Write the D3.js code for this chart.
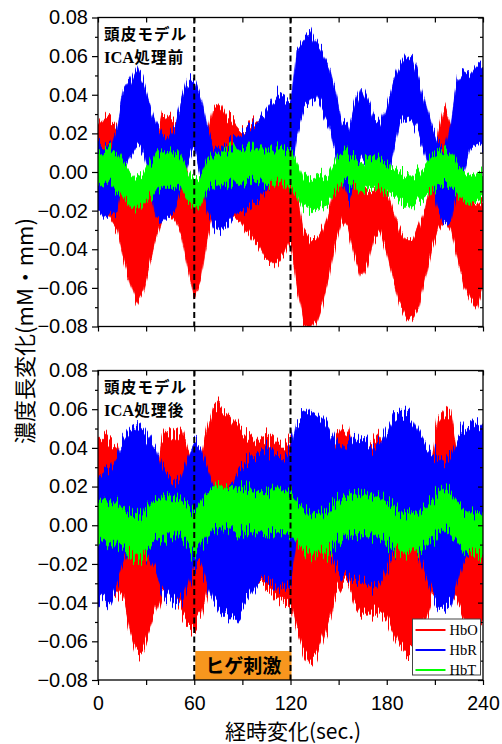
<!DOCTYPE html>
<html>
<head>
<meta charset="utf-8">
<script src="https://cdnjs.cloudflare.com/ajax/libs/d3/7.8.5/d3.min.js"></script>
<style>
  body { margin: 0; background: #fff; }
</style>
</head>
<body>
<svg id="chart" width="502" height="744"></svg>
<script>
// sampling times (sec) - one reading every 4 s, 0..240
const times = d3.range(0, 241, 4);

// 頭皮モデル ICA処理前 : upper / lower edge of each noisy trace (mM・mm)
const hboBeforeHi = [0.024,0.028,0.027,0.024,0.000,-0.010,-0.015,-0.010,0.000,0.015,0.030,0.028,0.026,0.020,0.000,-0.012,-0.005,0.020,0.035,0.036,0.030,0.026,0.022,0.022,0.026,0.026,0.020,0.010,0.000,0.000,0.005,
  -0.010,-0.030,-0.035,-0.035,-0.030,-0.020,-0.005,0.000,0.005,-0.005,-0.008,-0.010,-0.010,-0.005,-0.010,-0.020,-0.030,-0.035,-0.035,-0.028,-0.018,-0.005,0.020,0.034,0.025,-0.005,-0.012,-0.015,-0.018,-0.015];
const hboBeforeLo = [-0.018,-0.020,-0.025,-0.030,-0.045,-0.058,-0.068,-0.062,-0.048,-0.035,-0.025,-0.022,-0.025,-0.033,-0.050,-0.065,-0.056,-0.035,-0.022,-0.018,-0.020,-0.024,-0.025,-0.030,-0.035,-0.038,-0.044,-0.047,-0.047,-0.042,-0.035,
  -0.060,-0.078,-0.082,-0.078,-0.068,-0.055,-0.037,-0.025,-0.030,-0.044,-0.055,-0.048,-0.035,-0.031,-0.042,-0.055,-0.068,-0.075,-0.076,-0.070,-0.055,-0.040,-0.030,-0.025,-0.030,-0.044,-0.058,-0.065,-0.070,-0.060];
const hbrBeforeHi = [0.015,0.012,0.013,0.024,0.042,0.047,0.054,0.047,0.036,0.026,0.019,0.017,0.023,0.036,0.047,0.049,0.040,0.024,0.014,0.014,0.014,0.016,0.019,0.022,0.024,0.026,0.031,0.036,0.040,0.038,0.035,
  0.064,0.069,0.073,0.067,0.062,0.055,0.042,0.026,0.024,0.036,0.045,0.038,0.029,0.026,0.035,0.047,0.055,0.060,0.059,0.048,0.036,0.024,0.015,0.012,0.026,0.047,0.052,0.050,0.055,0.054];
const hbrBeforeLo = [-0.020,-0.024,-0.022,-0.020,0.000,0.008,0.014,0.010,-0.003,-0.024,-0.026,-0.023,-0.020,-0.010,0.005,0.014,-0.002,-0.020,-0.028,-0.030,-0.028,-0.024,-0.020,-0.020,-0.018,-0.015,-0.010,-0.005,0.000,0.000,-0.005,
  0.020,0.032,0.036,0.038,0.032,0.025,0.010,-0.005,-0.015,-0.005,0.010,0.005,-0.002,-0.008,-0.005,0.010,0.025,0.028,0.026,0.020,0.010,-0.005,-0.020,-0.027,-0.026,-0.010,0.000,0.012,0.014,0.012];
const hbtBeforeHi = [0.008,0.010,0.012,0.010,0.004,0.000,-0.003,-0.002,0.004,0.010,0.010,0.010,0.010,0.006,0.000,-0.004,-0.002,0.006,0.010,0.011,0.012,0.012,0.012,0.013,0.013,0.012,0.012,0.012,0.012,0.011,0.012,
  0.006,-0.002,-0.004,-0.003,-0.002,0.000,0.006,0.010,0.011,0.008,0.005,0.008,0.008,0.007,0.005,0.002,0.000,-0.002,-0.002,0.000,0.004,0.008,0.010,0.012,0.010,0.004,0.000,-0.002,-0.002,0.000];
const hbtBeforeLo = [-0.008,-0.006,-0.006,-0.010,-0.014,-0.017,-0.019,-0.018,-0.014,-0.010,-0.008,-0.008,-0.008,-0.010,-0.015,-0.019,-0.017,-0.010,-0.006,-0.006,-0.006,-0.006,-0.006,-0.005,-0.005,-0.005,-0.006,-0.006,-0.006,-0.007,-0.008,
  -0.012,-0.018,-0.020,-0.020,-0.018,-0.015,-0.010,-0.006,-0.005,-0.007,-0.010,-0.008,-0.008,-0.009,-0.010,-0.012,-0.015,-0.018,-0.018,-0.015,-0.012,-0.010,-0.008,-0.005,-0.008,-0.012,-0.015,-0.017,-0.016,-0.014];

// 頭皮モデル ICA処理後
const hboAfterHi = [0.046,0.046,0.043,0.040,0.030,0.015,0.005,0.005,0.010,0.025,0.045,0.048,0.048,0.050,0.040,0.030,0.035,0.050,0.062,0.063,0.060,0.055,0.050,0.046,0.045,0.045,0.046,0.045,0.042,0.042,0.045,
  0.000,-0.005,-0.005,-0.005,0.000,0.010,0.045,0.050,0.048,0.035,0.030,0.040,0.045,0.045,0.035,0.010,0.000,0.000,0.000,0.005,0.015,0.035,0.055,0.060,0.058,0.040,0.020,0.010,0.010,0.010];
const hboAfterLo = [-0.030,-0.032,-0.032,-0.035,-0.040,-0.055,-0.066,-0.064,-0.055,-0.045,-0.035,-0.035,-0.040,-0.045,-0.050,-0.052,-0.048,-0.035,-0.020,-0.020,-0.020,-0.022,-0.025,-0.028,-0.030,-0.030,-0.032,-0.035,-0.038,-0.040,-0.040,
  -0.055,-0.065,-0.070,-0.068,-0.060,-0.050,-0.035,-0.030,-0.030,-0.040,-0.045,-0.045,-0.045,-0.045,-0.048,-0.055,-0.062,-0.066,-0.066,-0.060,-0.050,-0.040,-0.035,-0.035,-0.035,-0.040,-0.048,-0.052,-0.052,-0.050];
const hbrAfterHi = [0.025,0.028,0.030,0.035,0.045,0.050,0.052,0.050,0.045,0.040,0.030,0.025,0.022,0.025,0.035,0.042,0.040,0.030,0.020,0.020,0.020,0.022,0.028,0.032,0.035,0.038,0.040,0.038,0.035,0.035,0.040,
  0.056,0.058,0.060,0.058,0.055,0.050,0.043,0.040,0.042,0.045,0.045,0.042,0.040,0.042,0.048,0.055,0.058,0.058,0.055,0.048,0.042,0.038,0.035,0.033,0.036,0.045,0.050,0.052,0.053,0.050];
const hbrAfterLo = [-0.038,-0.038,-0.038,-0.030,-0.020,-0.012,-0.010,-0.012,-0.018,-0.025,-0.033,-0.038,-0.042,-0.040,-0.030,-0.020,-0.020,-0.030,-0.040,-0.045,-0.048,-0.048,-0.045,-0.040,-0.035,-0.030,-0.028,-0.030,-0.033,-0.032,-0.030,
  -0.008,-0.006,-0.005,-0.006,-0.008,-0.012,-0.020,-0.026,-0.028,-0.028,-0.028,-0.030,-0.032,-0.030,-0.022,-0.014,-0.010,-0.008,-0.010,-0.015,-0.025,-0.035,-0.042,-0.045,-0.042,-0.030,-0.018,-0.014,-0.012,-0.015];
const hbtAfterHi = [0.013,0.013,0.012,0.011,0.008,0.006,0.005,0.006,0.010,0.013,0.014,0.015,0.014,0.013,0.010,0.007,0.012,0.016,0.020,0.021,0.020,0.020,0.019,0.019,0.018,0.017,0.017,0.018,0.019,0.018,0.017,
  0.012,0.008,0.006,0.005,0.006,0.008,0.012,0.014,0.015,0.016,0.016,0.016,0.015,0.014,0.012,0.010,0.007,0.006,0.006,0.007,0.009,0.013,0.017,0.019,0.017,0.012,0.008,0.006,0.006,0.006];
const hbtAfterLo = [-0.008,-0.008,-0.009,-0.010,-0.013,-0.016,-0.017,-0.016,-0.012,-0.008,-0.007,-0.006,-0.006,-0.007,-0.010,-0.014,-0.010,-0.006,-0.003,-0.002,-0.002,-0.003,-0.003,-0.004,-0.004,-0.004,-0.005,-0.004,-0.004,-0.004,-0.005,
  -0.010,-0.013,-0.015,-0.016,-0.015,-0.013,-0.009,-0.007,-0.006,-0.005,-0.005,-0.005,-0.006,-0.007,-0.009,-0.011,-0.013,-0.014,-0.014,-0.013,-0.011,-0.008,-0.004,-0.003,-0.005,-0.009,-0.013,-0.014,-0.015,-0.015];

const seriesNames = ["HbO", "HbR", "HbT"];
const seriesColors = ["#ff0000", "#0000ff", "#00ff00"];
const xTickValues = [0, 30, 60, 90, 120, 150, 180, 210, 240];
const yTickValues = [-0.08, -0.06, -0.04, -0.02, 0.00, 0.02, 0.04, 0.06, 0.08];
const yMinorValues = [-0.07, -0.05, -0.03, -0.01, 0.01, 0.03, 0.05, 0.07];
const stimulusTimes = [60, 120];
const stimulusLabel = "ヒゲ刺激";

const svg = d3.select("#chart");
const x = d3.scaleLinear().domain([0, 240]).range([98, 483]);

const panels = [
  {top: 17.5, bottom: 326.5, tag: "前", labels: false, jag: 26,
   bands: [[hboBeforeHi, hboBeforeLo], [hbrBeforeHi, hbrBeforeLo], [hbtBeforeHi, hbtBeforeLo]]},
  {top: 370.5, bottom: 680, tag: "後", labels: true, jag: 36,
   bands: [[hboAfterHi, hboAfterLo], [hbrAfterHi, hbrAfterLo], [hbtAfterHi, hbtAfterLo]]}
];

const defs = svg.append("defs");

// rough edge for the dense noisy traces (only shakes the drawn edge, not the data)
panels.forEach((p, k) => {
  const f = defs.append("filter").attr("id", "jag" + k)
    .attr("filterUnits", "userSpaceOnUse")
    .attr("x", 0).attr("y", 0).attr("width", 502).attr("height", 744)
    .attr("color-interpolation-filters", "sRGB");
  f.append("feTurbulence").attr("type", "fractalNoise")
    .attr("baseFrequency", "0.65 0.004").attr("numOctaves", 2).attr("seed", 4 + k)
    .attr("result", "n");
  f.append("feColorMatrix").attr("in", "n").attr("type", "matrix")
    .attr("values", "0 0 0 0 0.5  0 1 0 0 0  0 0 0 0 0  0 0 0 0 1").attr("result", "m");
  f.append("feDisplacementMap").attr("in", "SourceGraphic").attr("in2", "m")
    .attr("scale", p.jag).attr("xChannelSelector", "R").attr("yChannelSelector", "G");
});

panels.forEach((p, k) => {
  const y = d3.scaleLinear().domain([-0.08, 0.08]).range([p.bottom, p.top]);
  const g = svg.append("g");

  defs.append("clipPath").attr("id", "clip" + k)
    .append("rect")
    .attr("x", x(0)).attr("y", p.top)
    .attr("width", x(240) - x(0)).attr("height", p.bottom - p.top);

  // noisy traces drawn as filled bands, HbO first so HbT sits on top
  const bands = g.append("g").attr("clip-path", `url(#clip${k})`);
  p.bands.forEach(([hi, lo], i) => {
    const area = d3.area()
      .x((d, j) => x(times[j]))
      .y0((d, j) => y(lo[j]))
      .y1((d, j) => y(hi[j]));
    bands.append("path")
      .datum(hi)
      .attr("d", area)
      .attr("fill", seriesColors[i])
      .attr("stroke", seriesColors[i])
      .attr("stroke-width", 0.6)
      .attr("filter", `url(#jag${k})`);
  });

  // stimulus box (lower panel only)
  if (p.labels) {
    g.append("rect")
      .attr("x", x(stimulusTimes[0]) + 1).attr("y", y(-0.065))
      .attr("width", x(stimulusTimes[1]) - x(stimulusTimes[0]))
      .attr("height", p.bottom - y(-0.065))
      .attr("fill", "#f7961e");
    g.append("text")
      .attr("x", (x(stimulusTimes[0]) + x(stimulusTimes[1])) / 2 + 1)
      .attr("y", 673)
      .attr("text-anchor", "middle")
      .style("font-family", "'Noto Sans CJK JP'")
      .style("font-weight", "bold")
      .style("font-size", "19px")
      .text(stimulusLabel);
  }

  // dashed markers
  g.selectAll(".stim").data(stimulusTimes).enter().append("line")
    .attr("x1", d => x(d)).attr("x2", d => x(d))
    .attr("y1", p.top).attr("y2", p.bottom)
    .attr("stroke", "#000").attr("stroke-width", 2)
    .attr("stroke-dasharray", "6,3.5");

  // frame
  g.append("rect")
    .attr("x", x(0)).attr("y", p.top)
    .attr("width", x(240) - x(0)).attr("height", p.bottom - p.top)
    .attr("fill", "none").attr("stroke", "#000").attr("stroke-width", 1.3);

  const styleAxis = sel => {
    sel.select(".domain").remove();
    sel.selectAll("line").attr("stroke-width", 1.2);
    sel.selectAll("text")
      .style("font-family", "'Liberation Sans', Arial, sans-serif")
      .style("font-size", "20px")
      .attr("fill", "#000");
  };

  g.append("g").attr("transform", `translate(${x(0)},0)`)
    .call(d3.axisLeft(y).tickValues(yTickValues).tickSize(6).tickPadding(4).tickFormat(d3.format(".2f")))
    .call(styleAxis);
  g.append("g").attr("transform", `translate(${x(0)},0)`)
    .call(d3.axisLeft(y).tickValues(yMinorValues).tickSize(3).tickFormat(""))
    .call(styleAxis);
  g.append("g").attr("transform", `translate(${x(240)},0)`)
    .call(d3.axisLeft(y).tickValues(yTickValues).tickSize(5).tickFormat(""))
    .call(styleAxis);
  g.append("g").attr("transform", `translate(${x(240)},0)`)
    .call(d3.axisLeft(y).tickValues(yMinorValues).tickSize(3).tickFormat(""))
    .call(styleAxis);
  const xb = g.append("g").attr("transform", `translate(0,${p.bottom})`)
    .call(d3.axisBottom(x).tickValues(xTickValues).tickSize(5).tickPadding(11)
      .tickFormat(d => (p.labels && d % 60 === 0) ? d : ""))
    .call(styleAxis);
  xb.selectAll("text").style("font-size", "19.5px");
  g.append("g").attr("transform", `translate(0,${p.top})`)
    .call(d3.axisBottom(x).tickValues(xTickValues).tickSize(5).tickFormat(""))
    .call(styleAxis);

  // panel caption (two lines)
  g.append("text").attr("x", 104).attr("y", p.top + 22.5)
    .style("font-weight", "bold").style("font-size", "15.5px")
    .style("font-family", "'Noto Sans CJK JP'")
    .style("letter-spacing", "1.2px")
    .text("頭皮モデル");
  const cap2 = g.append("text").attr("x", 104).attr("y", p.top + 45)
    .style("font-weight", "bold").style("font-size", "15.5px");
  cap2.append("tspan").style("font-family", "'Liberation Serif', serif")
    .style("font-size", "16.5px")
    .text("ICA");
  cap2.append("tspan").style("font-family", "'Noto Sans CJK JP'")
    .style("letter-spacing", "1.2px")
    .text("処理" + p.tag);

  // legend (lower panel)
  if (p.labels) {
    const lg = g.append("g").attr("transform", "translate(412.5,619)");
    lg.append("rect").attr("width", 68).attr("height", 56)
      .attr("fill", "#fff").attr("stroke", "#444").attr("stroke-width", 1);
    seriesNames.forEach((name, i) => {
      lg.append("line").attr("x1", 3).attr("x2", 33)
        .attr("y1", 11 + i * 20).attr("y2", 11 + i * 20)
        .attr("stroke", seriesColors[i]).attr("stroke-width", 2);
      lg.append("text").attr("x", 37).attr("y", 16 + i * 20)
        .style("font-family", "'Liberation Serif', serif")
        .style("font-size", "14.5px")
        .text(name);
    });
  }
});

// axis titles
svg.append("text")
  .attr("transform", "translate(23,331) rotate(-90)")
  .attr("text-anchor", "middle")
  .attr("dominant-baseline", "central")
  .style("font-family", "'Noto Sans CJK JP'")
  .style("font-size", "22px")
  .text("濃度長変化(mM・mm)");

svg.append("text")
  .attr("x", 293).attr("y", 739)
  .attr("text-anchor", "middle")
  .style("font-family", "'Noto Sans CJK JP'")
  .style("font-size", "21px")
  .text("経時変化(sec.)");
</script>
</body>
</html>
